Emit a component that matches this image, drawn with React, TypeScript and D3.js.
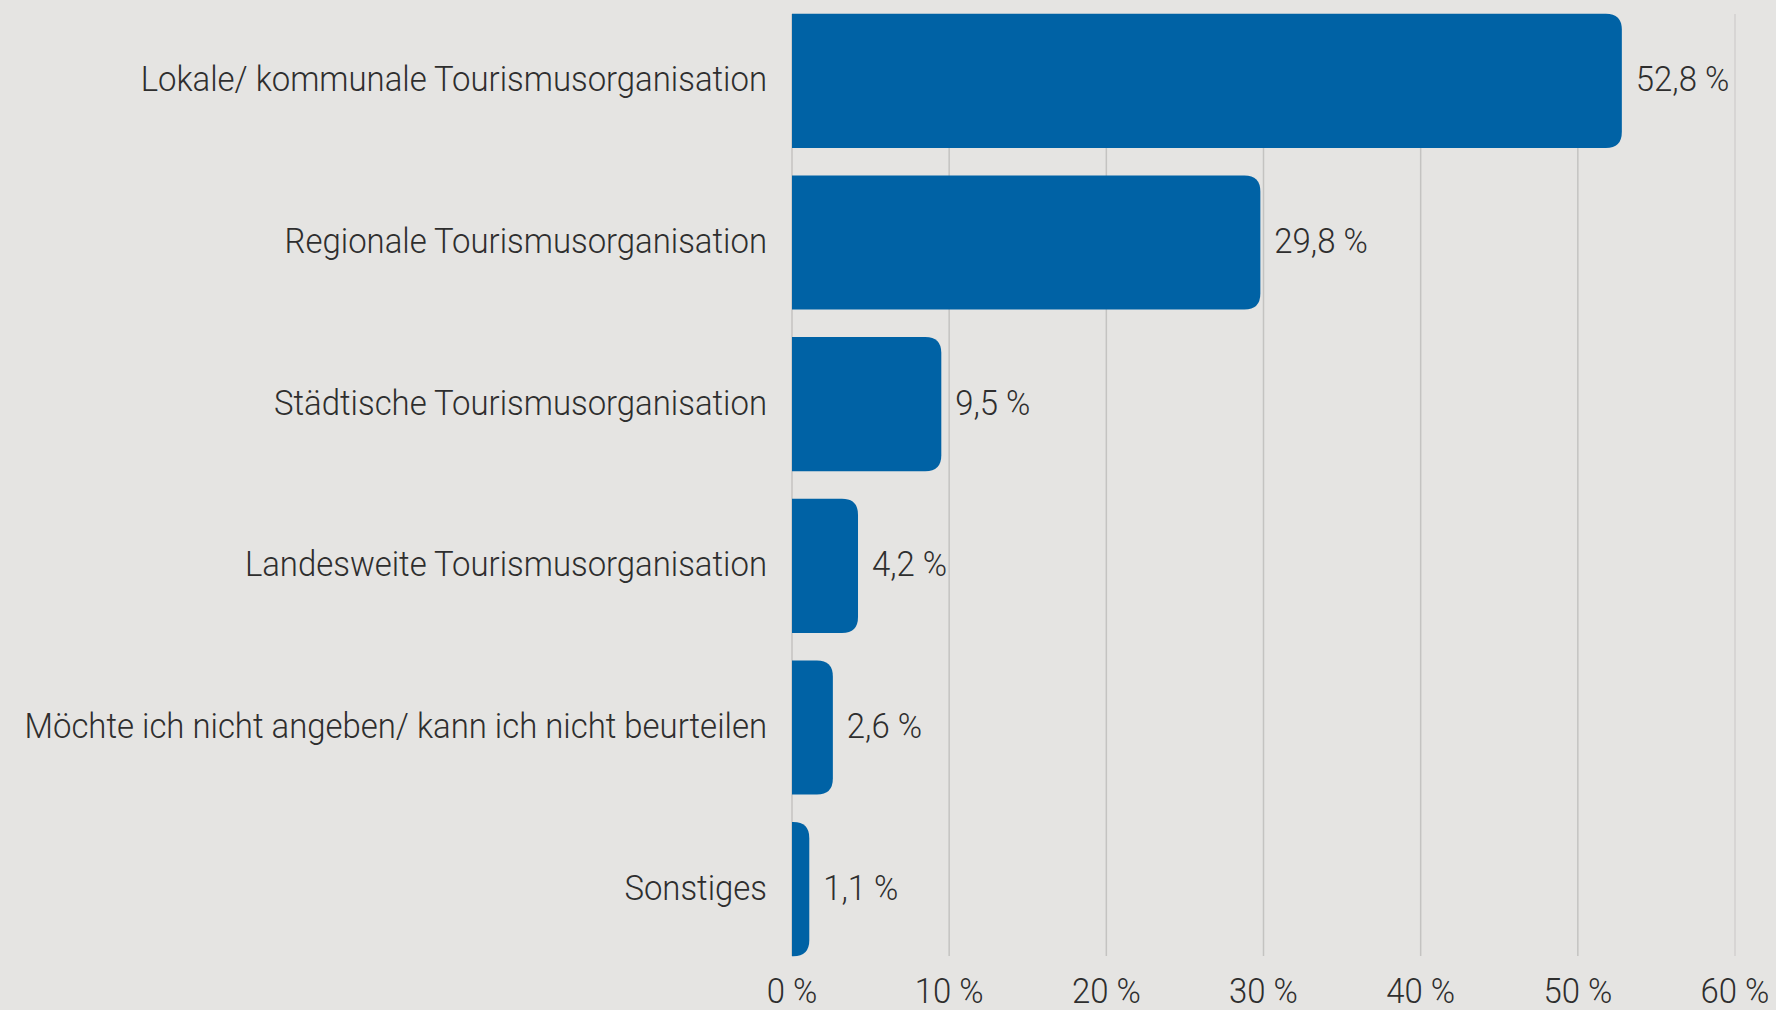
import React from "react";
import * as d3 from "d3";

const categories = [
  "Lokale/ kommunale Tourismusorganisation",
  "Regionale Tourismusorganisation",
  "Städtische Tourismusorganisation",
  "Landesweite Tourismusorganisation",
  "Möchte ich nicht angeben/ kann ich nicht beurteilen",
  "Sonstiges",
];
const values = [52.8, 29.8, 9.5, 4.2, 2.6, 1.1];
const ticks = [0, 10, 20, 30, 40, 50, 60];

const W = 1776;
const H = 1010;
const X0 = 792;
const X1 = 1735;
const FONT = "Roboto, 'Noto Sans', sans-serif";
const FS = 35;
const SX = 0.94;

function barPath(x0: number, x1: number, y0: number, y1: number, r: number) {
  const w = x1 - x0;
  const rr = Math.min(r, w, (y1 - y0) / 2);
  return `M${x0},${y0}H${x1 - rr}Q${x1},${y0} ${x1},${y0 + rr}V${y1 - rr}Q${x1},${y1} ${x1 - rr},${y1}H${x0}Z`;
}

function fmt(v: number) {
  return v.toFixed(1).replace(".", ",") + " %";
}

export default function App() {
  const x = d3.scaleLinear().domain([0, 60]).range([X0, X1]);
  const y = d3
    .scaleBand<string>()
    .domain(categories)
    .range([0, 970])
    .paddingInner(0.17)
    .paddingOuter(0.085);
  const gTop = 14;
  const gBot = 956;
  return (
    <div style={{ position: "fixed", left: 0, top: 0 }}>
      <svg width={W} height={H} style={{ display: "block" }}>
        <rect width={W} height={H} fill="#e5e4e2" />
        {ticks.map((t) => (
          <line
            key={"g" + t}
            x1={x(t)}
            x2={x(t)}
            y1={gTop}
            y2={gBot}
            stroke={t === 60 ? "#d2d1cf" : "#c4c3c1"}
            strokeWidth={1.5}
          />
        ))}
        {categories.map((c, i) => {
          const y0 = y(c)!;
          const y1 = y0 + y.bandwidth();
          const cy = y0 + y.bandwidth() / 2;
          const xe = x(values[i]);
          return (
            <g key={c}>
              <path d={barPath(x(0), xe, y0, y1, 16)} fill="#0062a5" />
              <text
                transform={`translate(767,${cy}) scale(${SX},1)`}
                textAnchor="end"
                dy="0.3em"
                fontFamily={FONT}
                fontWeight={300}
                fontSize={FS}
                fill="#2e2e2e"
              >
                {c}
              </text>
              <text
                transform={`translate(${xe + 14},${cy}) scale(${SX},1)`}
                dy="0.3em"
                fontFamily={FONT}
                fontWeight={300}
                fontSize={FS}
                fill="#2e2e2e"
              >
                {fmt(values[i])}
              </text>
            </g>
          );
        })}
        {ticks.map((t) => (
          <text
            key={"t" + t}
            transform={`translate(${x(t)},1003) scale(${SX},1)`}
            textAnchor="middle"
            fontFamily={FONT}
            fontWeight={300}
            fontSize={FS}
            fill="#2e2e2e"
          >
            {t + " %"}
          </text>
        ))}
      </svg>
    </div>
  );
}
